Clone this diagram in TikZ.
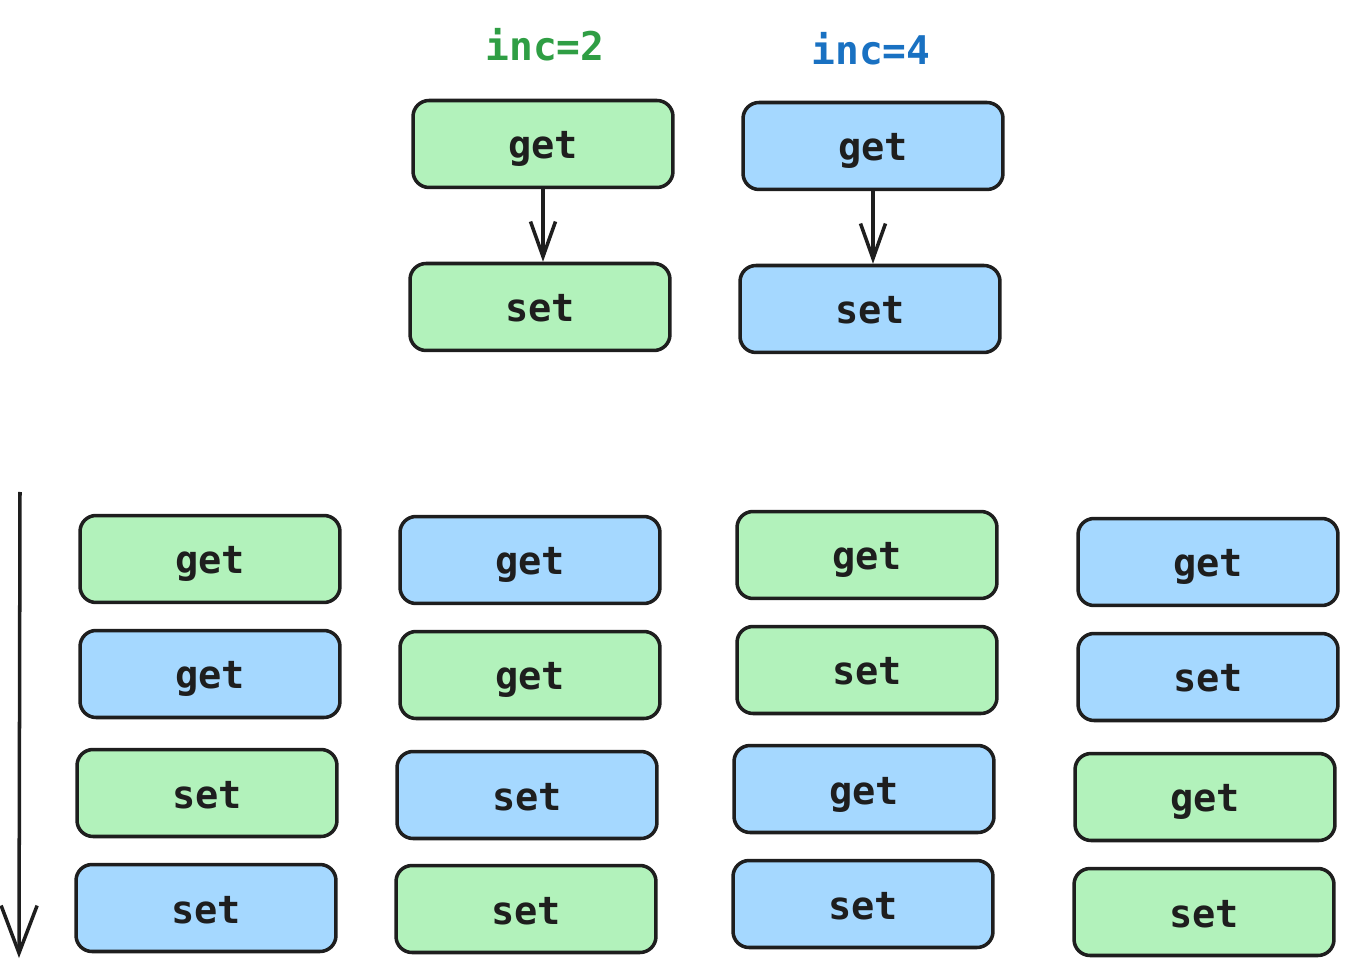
\documentclass[tikz,border=0pt]{standalone}
\usepackage{fontspec}
\setmonofont{DejaVu Sans Mono}
\usetikzlibrary{arrows.meta}
\definecolor{stroke}{HTML}{1E1E1E}
\definecolor{incgreen}{HTML}{B2F2BB}
\definecolor{incblue}{HTML}{A5D8FF}
\definecolor{labgreen}{HTML}{2F9E44}
\definecolor{labblue}{HTML}{1971C2}
\begin{document}
\begin{tikzpicture}[x=0.02cm, y=-0.02cm,
    op/.style={draw=stroke, line width=2pt, rounded corners=0.32cm,
        minimum width=5.2cm, minimum height=1.74cm, inner sep=0pt,
        text height=0.6cm, text depth=0pt,
        font=\ttfamily\bfseries\fontsize{22}{25}\selectfont, text=stroke},
    opg/.style={op, fill=incgreen},
    opb/.style={op, fill=incblue},
    lab/.style={font=\ttfamily\bfseries\fontsize{22.5}{26}\selectfont}]
                \useasboundingbox (0,0) rectangle (1359,979);

                % the two threads
                \node[lab, text=labgreen] (lab2) at (545,45) {inc=2};
                \node[lab, text=labblue] (lab4) at (871,49) {inc=4};

                \node[opg] (g2) at (543,144) {get};
                \node[opg] (s2) at (540,307) {set};
                \node[opb] (g4) at (873,146) {get};
                \node[opb] (s4) at (870,309) {set};

                \draw[-{Straight Barb[length=0.7cm, width=0.5cm]}, line width=2pt, color=stroke] (g2.south) -- (g2.south |- s2.north);
                \draw[-{Straight Barb[length=0.7cm, width=0.5cm]}, line width=2pt, color=stroke] (g4.south) -- (g4.south |- s4.north);

                % time runs downwards
                \coordinate (t0) at (20,492);
                \coordinate (t1) at (19,958);
                \draw[-{Straight Barb[length=0.95cm, width=0.72cm]}, line width=2pt, color=stroke] (t0) -- (t1);

                % first order
                \node[opg] (a1) at (210,559) {get};
                \node[opb] (a2) at (210,674) {get};
                \node[opg] (a3) at (207,793) {set};
                \node[opb] (a4) at (206,908) {set};

                % second order
                \node[opb] (b1) at (530,560) {get};
                \node[opg] (b2) at (530,675) {get};
                \node[opb] (b3) at (527,795) {set};
                \node[opg] (b4) at (526,909) {set};

                % third order
                \node[opg] (c1) at (867,555) {get};
                \node[opg] (c2) at (867,670) {set};
                \node[opb] (c3) at (864,789) {get};
                \node[opb] (c4) at (863,904) {set};

                % fourth order
                \node[opb] (d1) at (1208,562) {get};
                \node[opb] (d2) at (1208,677) {set};
                \node[opg] (d3) at (1205,797) {get};
                \node[opg] (d4) at (1204,912) {set};

            \end{tikzpicture}
\end{document}
